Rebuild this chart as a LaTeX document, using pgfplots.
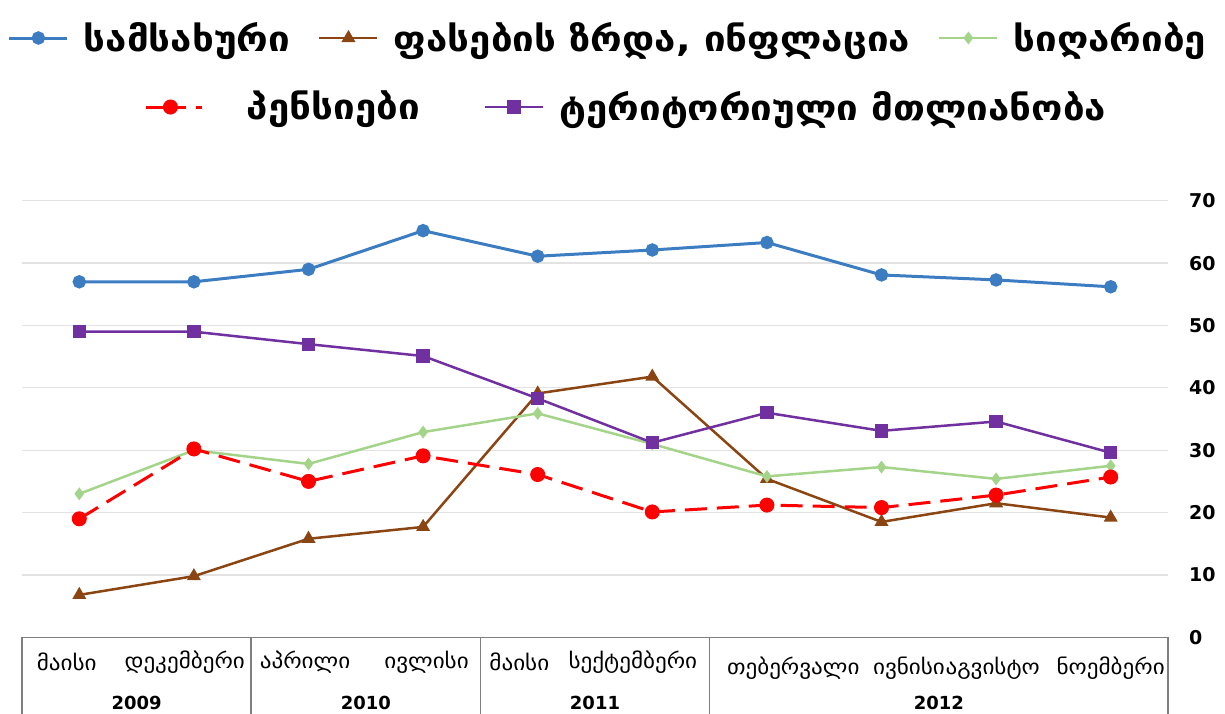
\documentclass[border=0pt]{standalone}
\usepackage{fontspec}
\setmainfont{DejaVu Sans}
\newfontfamily\geo[FakeStretch=1.1]{DejaVu Sans}
\usepackage{pgfplots}
\pgfplotsset{compat=1.18}
\definecolor{cblue}{HTML}{3C7DC2}
\definecolor{cbrown}{HTML}{8B4513}
\definecolor{cgreen}{HTML}{A3D48A}
\definecolor{cred}{HTML}{FF0000}
\definecolor{cpurple}{HTML}{7030A0}
\definecolor{cframe}{HTML}{7F7F7F}
\pgfplotsset{
 base/.style={
  scale only axis, width=573pt, height=218.3pt,
  xmin=-0.5, xmax=9.5, ymin=0, ymax=70,
  clip=false,
  axis line style={draw=none},
  legend image code/.code={\draw[mark repeat=2,mark phase=2] plot coordinates {(0pt,0pt) (14.5pt,0pt) (29pt,0pt)};},
  legend style={draw=none, fill=none, inner sep=0pt, outer sep=0pt,
    font=\geo\bfseries\fontsize{17.5}{21}\selectfont,
    /tikz/every odd column/.append style={column sep=5.5pt},
    legend cell align=left, anchor=west},
 },
}
\begin{document}
\begin{tikzpicture}
\begin{axis}[base,
  xtick=\empty, ytick={0,10,...,70}, yticklabel pos=right,
  ymajorgrids, grid style={gray!22, line width=0.6pt},
  major tick length=0pt, tick style={draw=none},
  yticklabel style={font=\bfseries\fontsize{9.5}{11}\selectfont, anchor=west, xshift=7pt},
  /pgf/number format/assume math mode=true,
  legend columns=3,
  legend style={at={(axis description cs:-0.0123,1.3727)},
    /tikz/every even column/.append style={column sep=12pt}}]
\coordinate (SW) at (rel axis cs:0,0);
\addplot[cblue, line width=1.5pt, mark=*, mark size=2.6pt] coordinates {
 (0,57) (1,57) (2,59) (3,65.2) (4,61.1) (5,62.1) (6,63.3) (7,58.1) (8,57.3) (9,56.2)};
\addlegendentry{სამსახური}
\addplot[cbrown, line width=1.25pt, mark=triangle*, mark size=2.8pt] coordinates {
 (0,6.8) (1,9.8) (2,15.8) (3,17.7) (4,39.1) (5,41.8) (6,25.4) (7,18.5) (8,21.5) (9,19.2)};
\addlegendentry{ფასების ზრდა, ინფლაცია}
\addplot[cgreen, line width=1.25pt, mark=diamond*, mark size=2.2pt] coordinates {
 (0,23) (1,30) (2,27.8) (3,32.9) (4,35.9) (5,31.0) (6,25.8) (7,27.3) (8,25.4) (9,27.5)};
\addlegendentry{სიღარიბე}
% table frame below the plot
\draw[cframe, line width=0.8pt] (axis cs:-0.5,0) -- (axis cs:9.5,0);
\draw[cframe, line width=0.8pt] (axis cs:-0.5,0) -- (axis cs:-0.5,-13);
\draw[cframe, line width=0.8pt] (axis cs:1.5,0) -- (axis cs:1.5,-13);
\draw[cframe, line width=0.8pt] (axis cs:3.5,0) -- (axis cs:3.5,-13);
\draw[cframe, line width=0.8pt] (axis cs:5.5,0) -- (axis cs:5.5,-13);
\draw[cframe, line width=0.8pt] (axis cs:9.5,0) -- (axis cs:9.5,-13);
\begin{scope}[every node/.style={font=\geo\fontsize{10.5}{12}\selectfont, inner sep=0pt}]
\node at (axis cs:-0.11,-4) {მაისი};
\node at (axis cs:0.92,-4) {დეკემბერი};
\node at (axis cs:1.97,-4) {აპრილი};
\node at (axis cs:3.03,-4) {ივლისი};
\node at (axis cs:3.84,-4) {მაისი};
\node at (axis cs:4.83,-4) {სექტემბერი};
\node at (axis cs:6.23,-5) {თებერვალი};
\node at (axis cs:7.24,-5) {ივნისი};
\node at (axis cs:7.97,-5) {აგვისტო};
\node at (axis cs:9.0,-5) {ნოემბერი};
\end{scope}
\begin{scope}[every node/.style={font=\bfseries\fontsize{9}{11}\selectfont, inner sep=0pt}]
\node at (axis cs:0.5,-10.6) {2009};
\node at (axis cs:2.5,-10.6) {2010};
\node at (axis cs:4.5,-10.6) {2011};
\node at (axis cs:7.5,-10.6) {2012};
\end{scope}
\end{axis}
\begin{axis}[base, hide axis,
  legend columns=2,
  legend style={at={(axis description cs:0.1073,1.2146)},
    /tikz/every even column/.append style={column sep=30pt}}]
\addplot[cred, line width=1.5pt, dash pattern=on 11pt off 5pt, mark=*, mark size=3pt, mark options={solid},
  legend image code/.code={\draw[dash pattern=on 20pt off 5pt on 3pt off 20pt] plot[mark repeat=2,mark phase=2] coordinates {(0pt,0pt) (12pt,0pt) (34pt,0pt)}; \path (42pt,0pt);}] coordinates {
 (0,19) (1,30.2) (2,25) (3,29.1) (4,26.1) (5,20.1) (6,21.2) (7,20.8) (8,22.8) (9,25.7)};
\addlegendentry{პენსიები}
\addplot[cpurple, line width=1.25pt, mark=square*, mark size=2.7pt] coordinates {
 (0,49) (1,49) (2,47) (3,45.1) (4,38.3) (5,31.2) (6,36.0) (7,33.1) (8,34.6) (9,29.6)};
\addlegendentry{ტერიტორიული მთლიანობა}
\end{axis}
\pgfresetboundingbox
\path[use as bounding box] ([shift={(-11pt,-38pt)}]SW) rectangle ([shift={(601.5pt,318.65pt)}]SW);
\end{tikzpicture}
\end{document}
